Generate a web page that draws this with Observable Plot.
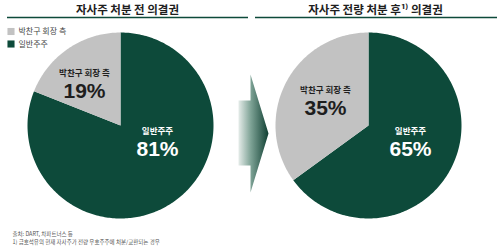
<!DOCTYPE html>
<html><head><meta charset="utf-8">
<script src="https://cdn.jsdelivr.net/npm/d3@7"></script>
<script src="https://cdn.jsdelivr.net/npm/@observablehq/plot@0.6"></script>
<style>body{margin:0;background:#fff}</style>
</head><body><div id="chart"></div>
<script>
// ---- data ----
const titles = ["자사주 처분 전 의결권", "자사주 전량 처분 후¹⁾ 의결권"];
const categories = ["일반주주", "박찬구 회장 측"];
const before = [81, 19];
const after = [65, 35];
const footnotes = ["출처: DART, 차파트너스 등", "1) 금호석유의 현재 자사주가 전량 우호주주에 처분/교환되는 경우"];

// ---- layout ----
const GREEN = "#0d4a3a", GRAY = "#c2c2c2";
const KR = "'Noto Sans CJK KR', 'Noto Sans', sans-serif";
const NUM = "'Liberation Sans', Arial, sans-serif";
const pieLayout = [
  {cx: 120, cy: 125, r: 93, labels: [[157, 131], [84, 73]]},
  {cx: 368, cy: 125, r: 93, labels: [[410, 131], [325, 90]]}
];
const titleLayout = [{x: 127, x1: 7, x2: 248}, {x: 375, x1: 255, x2: 497}];

const series = [before, after];
const piePoints = [];
const labelRows = [];
series.forEach((vals, pi) => {
  const L = pieLayout[pi];
  const arcs = d3.pie().sort(null)(vals);
  arcs.forEach((a, si) => {
    const id = pi + "-" + si;
    const pts = [{x: L.cx, y: L.cy}];
    const n = Math.max(2, Math.ceil((a.endAngle - a.startAngle) / (Math.PI / 180)));
    for (let k = 0; k <= n; k++) {
      const t = a.startAngle + (a.endAngle - a.startAngle) * k / n;
      pts.push({x: L.cx + L.r * Math.sin(t), y: L.cy - L.r * Math.cos(t)});
    }
    pts.forEach(p => piePoints.push({...p, id, cat: categories[si]}));
    labelRows.push({x: L.labels[si][0], y: L.labels[si][1], name: categories[si], pct: vals[si] + "%", cat: categories[si]});
  });
});

const arrow = [
  {x: 238, y: 100}, {x: 250, y: 100}, {x: 250, y: 74}, {x: 268, y: 133},
  {x: 250, y: 192}, {x: 250, y: 165}, {x: 238, y: 165}
];

const titleRows = titles.map((t, i) => ({t, ...titleLayout[i]}));
const legendRows = categories.slice().reverse().map((c, i) => ({c, y: 31 + i * 12.5}));
const footRows = footnotes.map((f, i) => ({f, y: 234 + i * 8}));

const defs = () => {
  const g = d3.create("svg:defs");
  const lg = g.append("linearGradient").attr("id", "arrowGrad")
    .attr("gradientUnits", "userSpaceOnUse").attr("x1", 236).attr("x2", 268).attr("y1", 0).attr("y2", 0);
  lg.append("stop").attr("offset", 0).attr("stop-color", "#f6f8f7");
  lg.append("stop").attr("offset", 0.45).attr("stop-color", "#7da295");
  lg.append("stop").attr("offset", 1).attr("stop-color", "#0f3f32");
  return g.node();
};

const chart = Plot.plot({
  width: 500, height: 248,
  margin: 0,
  x: {type: "identity", axis: null},
  y: {type: "identity", axis: null},
  color: {domain: categories, range: [GREEN, GRAY]},
  marks: [
    defs,
    // titles and rules
    Plot.text(titleRows, {x: "x", y: 10, text: "t", fontFamily: KR, fontWeight: 700, fontSize: 11.5, fill: "#1e1e1e"}),
    Plot.ruleY(titleRows, {x1: "x1", x2: "x2", y: 17, stroke: GREEN, strokeWidth: 1.3}),
    // legend
    Plot.dot(legendRows, {x: 10.5, y: "y", symbol: "square", r: 4, fill: "c", stroke: null}),
    Plot.text(legendRows, {x: 18, y: "y", text: "c", textAnchor: "start", fontFamily: KR, fontSize: 8, fill: "#444"}),
    // arrow
    Plot.line(arrow, {x: "x", y: "y", fill: "url(#arrowGrad)", stroke: null}),
    // pies
    Plot.line(piePoints, {x: "x", y: "y", z: "id", fill: "cat", stroke: null, curve: "linear"}),
    // labels
    Plot.text(labelRows, {x: "x", y: "y", text: "name", fontFamily: KR, fontWeight: 700, fontSize: 8.5,
      fill: d => d.cat === categories[0] ? "#ffffff" : "#1e1e1e"}),
    Plot.text(labelRows, {x: "x", y: d => d.y + 18, text: "pct", fontFamily: NUM, fontWeight: 700, fontSize: 21,
      fill: d => d.cat === categories[0] ? "#ffffff" : "#1e1e1e"}),
    // footnotes
    Plot.text(footRows, {x: 12, y: "y", text: "f", textAnchor: "start", fontFamily: KR, fontSize: 5.5, fill: "#555"})
  ]
});
document.getElementById("chart").append(chart);
</script></body></html>
